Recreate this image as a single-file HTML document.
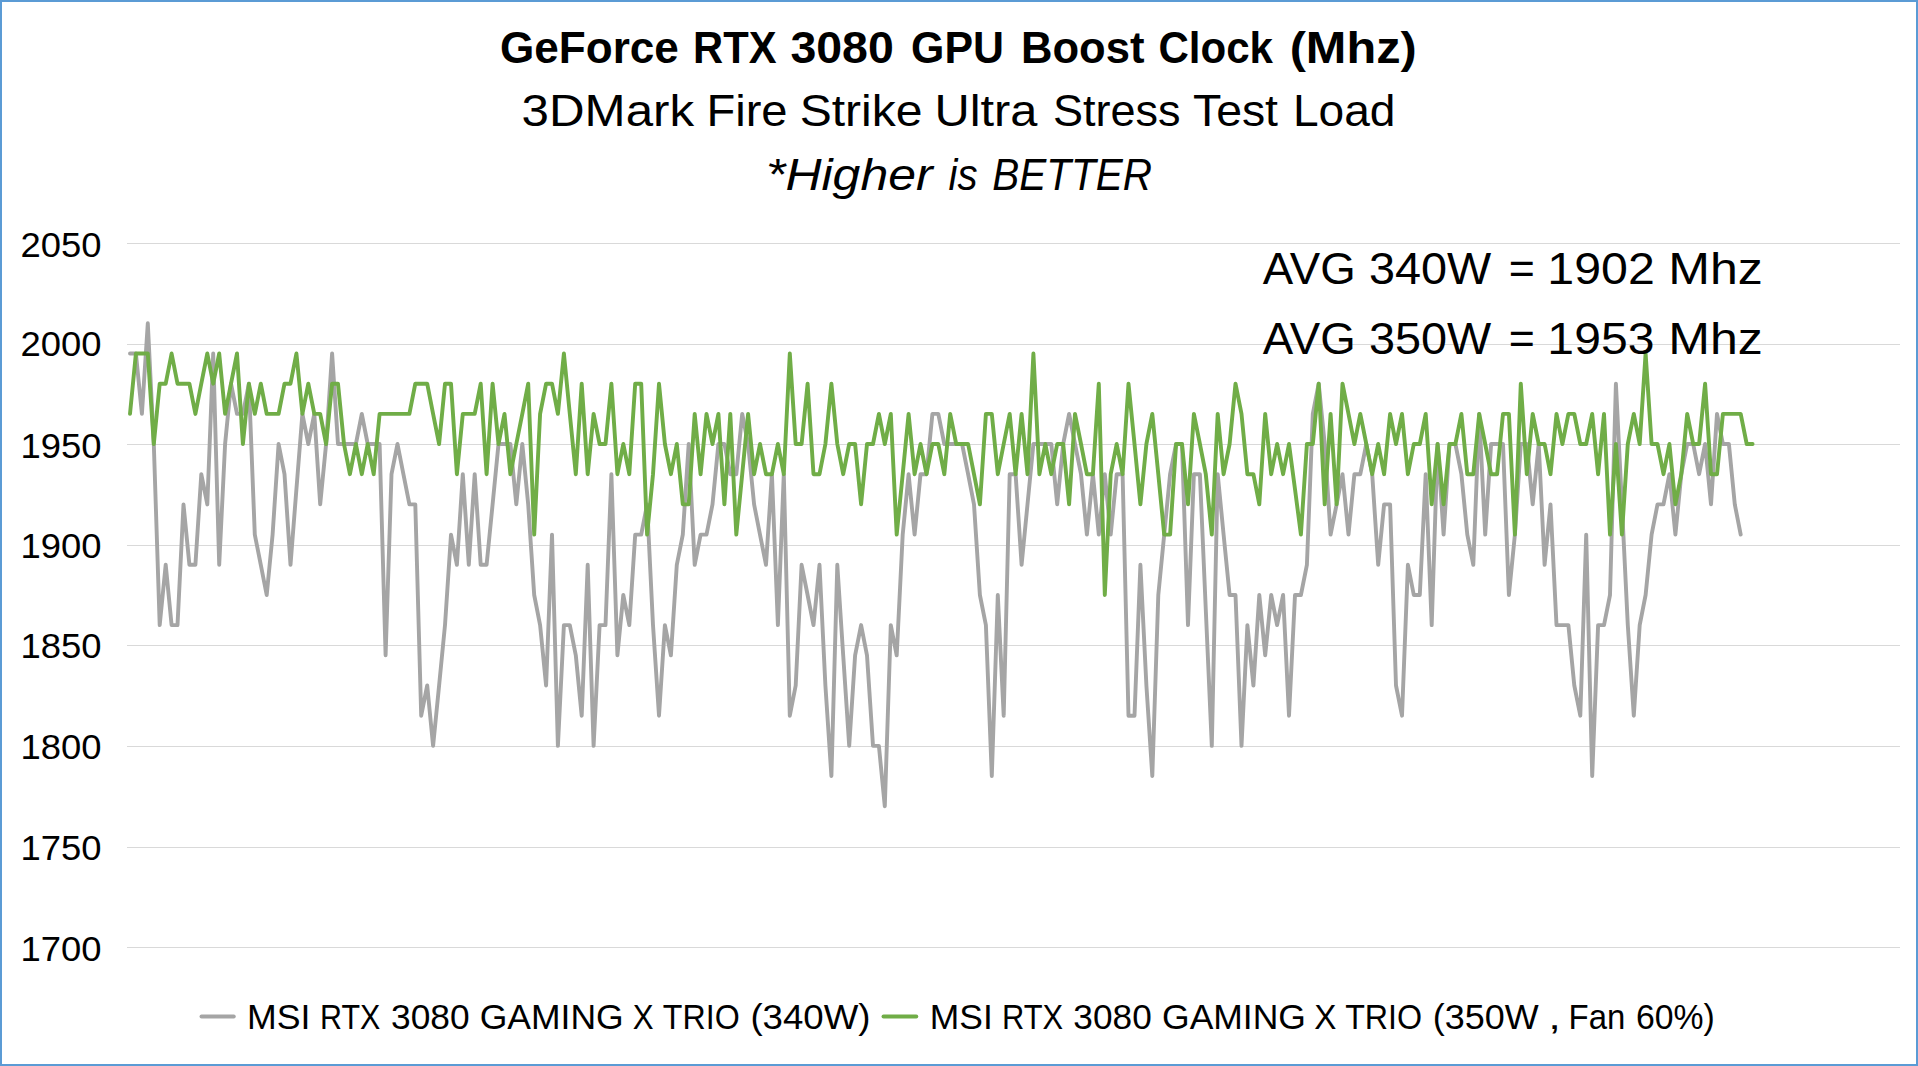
<!DOCTYPE html>
<html lang="en"><head><meta charset="utf-8"><title>GeForce RTX 3080 GPU Boost Clock (Mhz)</title>
<style>
html,body{margin:0;padding:0;background:#fff;}
body{width:1918px;height:1066px;overflow:hidden;position:relative;}
svg{position:absolute;left:0;top:0;display:block;}
text{font-family:"Liberation Sans", "DejaVu Sans", sans-serif;fill:#000;}
</style></head><body>
<svg width="1918" height="1066" viewBox="0 0 1918 1066">
<rect x="0" y="0" width="1918" height="1066" fill="#fff"/>
<g stroke="#d9d9d9" stroke-width="1" fill="none" shape-rendering="crispEdges"><line x1="127" x2="1899.5" y1="243.5" y2="243.5"/><line x1="127" x2="1899.5" y1="344.5" y2="344.5"/><line x1="127" x2="1899.5" y1="444.5" y2="444.5"/><line x1="127" x2="1899.5" y1="545.5" y2="545.5"/><line x1="127" x2="1899.5" y1="645.5" y2="645.5"/><line x1="127" x2="1899.5" y1="746.5" y2="746.5"/><line x1="127" x2="1899.5" y1="847.5" y2="847.5"/><line x1="127" x2="1899.5" y1="947.5" y2="947.5"/></g>
<polyline fill="none" stroke="#a5a5a5" stroke-width="3.9" stroke-linejoin="round" stroke-linecap="round" points="130.0,353.5 135.9,353.5 141.9,413.9 147.8,323.3 153.8,444.0 159.7,625.1 165.7,564.8 171.6,625.1 177.5,625.1 183.5,504.4 189.4,564.8 195.4,564.8 201.3,474.2 207.3,504.4 213.2,353.5 219.2,564.8 225.1,444.0 231.0,383.7 237.0,413.9 242.9,413.9 248.9,383.7 254.8,534.6 260.8,564.8 266.7,595.0 272.6,534.6 278.6,444.0 284.5,474.2 290.5,564.8 296.4,489.3 302.4,413.9 308.3,444.0 314.3,413.9 320.2,504.4 326.1,444.0 332.1,353.5 338.0,444.0 344.0,444.0 349.9,444.0 355.9,444.0 361.8,413.9 367.7,444.0 373.7,444.0 379.6,444.0 385.6,655.3 391.5,474.2 397.5,444.0 403.4,474.2 409.4,504.4 415.3,504.4 421.2,715.7 427.2,685.5 433.1,745.9 439.1,685.5 445.0,625.1 451.0,534.6 456.9,564.8 462.8,474.2 468.8,564.8 474.7,474.2 480.7,564.8 486.6,564.8 492.6,504.4 498.5,444.0 504.5,444.0 510.4,444.0 516.3,504.4 522.3,444.0 528.2,504.4 534.2,595.0 540.1,625.1 546.1,685.5 552.0,534.6 557.9,745.9 563.9,625.1 569.8,625.1 575.8,655.3 581.7,715.7 587.7,564.8 593.6,745.9 599.6,625.1 605.5,625.1 611.4,474.2 617.4,655.3 623.3,595.0 629.3,625.1 635.2,534.6 641.2,534.6 647.1,504.4 653.0,625.1 659.0,715.7 664.9,625.1 670.9,655.3 676.8,564.8 682.8,534.6 688.7,444.0 694.7,564.8 700.6,534.6 706.5,534.6 712.5,504.4 718.4,444.0 724.4,444.0 730.3,474.2 736.3,474.2 742.2,413.9 748.1,444.0 754.1,504.4 760.0,534.6 766.0,564.8 771.9,474.2 777.9,625.1 783.8,474.2 789.8,715.7 795.7,685.5 801.6,564.8 807.6,595.0 813.5,625.1 819.5,564.8 825.4,685.5 831.4,776.0 837.3,564.8 843.2,655.3 849.2,745.9 855.1,655.3 861.1,625.1 867.0,655.3 873.0,745.9 878.9,745.9 884.8,806.2 890.8,625.1 896.7,655.3 902.7,534.6 908.6,474.2 914.6,534.6 920.5,474.2 926.5,474.2 932.4,413.9 938.3,413.9 944.3,444.0 950.2,444.0 956.2,444.0 962.1,444.0 968.1,474.2 974.0,504.4 979.9,595.0 985.9,625.1 991.8,776.0 997.8,595.0 1003.7,715.7 1009.7,474.2 1015.6,474.2 1021.6,564.8 1027.5,504.4 1033.4,444.0 1039.4,444.0 1045.3,444.0 1051.3,444.0 1057.2,504.4 1063.2,444.0 1069.1,413.9 1075.0,444.0 1081.0,474.2 1086.9,534.6 1092.9,474.2 1098.8,534.6 1104.8,474.2 1110.7,534.6 1116.7,474.2 1122.6,474.2 1128.5,715.7 1134.5,715.7 1140.4,564.8 1146.4,685.5 1152.3,776.0 1158.3,595.0 1164.2,534.6 1170.1,474.2 1176.1,444.0 1182.0,444.0 1188.0,625.1 1193.9,474.2 1199.9,474.2 1205.8,610.0 1211.8,745.9 1217.7,474.2 1223.6,534.6 1229.6,595.0 1235.5,595.0 1241.5,745.9 1247.4,625.1 1253.4,685.5 1259.3,595.0 1265.2,655.3 1271.2,595.0 1277.1,625.1 1283.1,595.0 1289.0,715.7 1295.0,595.0 1300.9,595.0 1306.9,564.8 1312.8,413.9 1318.7,383.7 1324.7,444.0 1330.6,534.6 1336.6,504.4 1342.5,474.2 1348.5,534.6 1354.4,474.2 1360.3,474.2 1366.3,444.0 1372.2,474.2 1378.2,564.8 1384.1,504.4 1390.1,504.4 1396.0,685.5 1402.0,715.7 1407.9,564.8 1413.8,595.0 1419.8,595.0 1425.7,474.2 1431.7,625.1 1437.6,444.0 1443.6,534.6 1449.5,444.0 1455.4,444.0 1461.4,474.2 1467.3,534.6 1473.3,564.8 1479.2,413.9 1485.2,534.6 1491.1,444.0 1497.1,444.0 1503.0,444.0 1508.9,595.0 1514.9,534.6 1520.8,444.0 1526.8,444.0 1532.7,504.4 1538.7,444.0 1544.6,564.8 1550.5,504.4 1556.5,625.1 1562.4,625.1 1568.4,625.1 1574.3,685.5 1580.3,715.7 1586.2,534.6 1592.2,776.0 1598.1,625.1 1604.0,625.1 1610.0,595.0 1615.9,383.7 1621.9,504.4 1627.8,625.1 1633.8,715.7 1639.7,625.1 1645.6,595.0 1651.6,534.6 1657.5,504.4 1663.5,504.4 1669.4,474.2 1675.4,534.6 1681.3,474.2 1687.2,444.0 1693.2,444.0 1699.1,474.2 1705.1,444.0 1711.0,504.4 1717.0,413.9 1722.9,444.0 1728.9,444.0 1734.8,504.4 1740.7,534.6"/>
<polyline fill="none" stroke="#70ad47" stroke-width="3.9" stroke-linejoin="round" stroke-linecap="round" points="130.0,413.9 135.9,353.5 141.9,353.5 147.8,353.5 153.8,444.0 159.7,383.7 165.7,383.7 171.6,353.5 177.5,383.7 183.5,383.7 189.4,383.7 195.4,413.9 201.3,383.7 207.3,353.5 213.2,383.7 219.2,353.5 225.1,413.9 231.0,383.7 237.0,353.5 242.9,444.0 248.9,383.7 254.8,413.9 260.8,383.7 266.7,413.9 272.6,413.9 278.6,413.9 284.5,383.7 290.5,383.7 296.4,353.5 302.4,413.9 308.3,383.7 314.3,413.9 320.2,413.9 326.1,444.0 332.1,383.7 338.0,383.7 344.0,444.0 349.9,474.2 355.9,444.0 361.8,474.2 367.7,444.0 373.7,474.2 379.6,413.9 385.6,413.9 391.5,413.9 397.5,413.9 403.4,413.9 409.4,413.9 415.3,383.7 421.2,383.7 427.2,383.7 433.1,413.9 439.1,444.0 445.0,383.7 451.0,383.7 456.9,474.2 462.8,413.9 468.8,413.9 474.7,413.9 480.7,383.7 486.6,474.2 492.6,383.7 498.5,444.0 504.5,413.9 510.4,474.2 516.3,444.0 522.3,413.9 528.2,383.7 534.2,534.6 540.1,413.9 546.1,383.7 552.0,383.7 557.9,413.9 563.9,353.5 569.8,413.9 575.8,474.2 581.7,383.7 587.7,474.2 593.6,413.9 599.6,444.0 605.5,444.0 611.4,383.7 617.4,474.2 623.3,444.0 629.3,474.2 635.2,383.7 641.2,383.7 647.1,534.6 653.0,474.2 659.0,383.7 664.9,444.0 670.9,474.2 676.8,444.0 682.8,504.4 688.7,504.4 694.7,413.9 700.6,474.2 706.5,413.9 712.5,444.0 718.4,413.9 724.4,504.4 730.3,413.9 736.3,534.6 742.2,474.2 748.1,413.9 754.1,474.2 760.0,444.0 766.0,474.2 771.9,474.2 777.9,444.0 783.8,474.2 789.8,353.5 795.7,444.0 801.6,444.0 807.6,383.7 813.5,474.2 819.5,474.2 825.4,444.0 831.4,383.7 837.3,444.0 843.2,474.2 849.2,444.0 855.1,444.0 861.1,504.4 867.0,444.0 873.0,444.0 878.9,413.9 884.8,444.0 890.8,413.9 896.7,534.6 902.7,474.2 908.6,413.9 914.6,474.2 920.5,444.0 926.5,474.2 932.4,444.0 938.3,444.0 944.3,474.2 950.2,413.9 956.2,444.0 962.1,444.0 968.1,444.0 974.0,474.2 979.9,504.4 985.9,413.9 991.8,413.9 997.8,474.2 1003.7,444.0 1009.7,413.9 1015.6,474.2 1021.6,413.9 1027.5,474.2 1033.4,353.5 1039.4,474.2 1045.3,444.0 1051.3,474.2 1057.2,444.0 1063.2,444.0 1069.1,504.4 1075.0,413.9 1081.0,444.0 1086.9,474.2 1092.9,474.2 1098.8,383.7 1104.8,595.0 1110.7,474.2 1116.7,444.0 1122.6,474.2 1128.5,383.7 1134.5,444.0 1140.4,504.4 1146.4,444.0 1152.3,413.9 1158.3,474.2 1164.2,534.6 1170.1,534.6 1176.1,444.0 1182.0,444.0 1188.0,504.4 1193.9,413.9 1199.9,444.0 1205.8,474.2 1211.8,534.6 1217.7,413.9 1223.6,474.2 1229.6,444.0 1235.5,383.7 1241.5,413.9 1247.4,474.2 1253.4,474.2 1259.3,504.4 1265.2,413.9 1271.2,474.2 1277.1,444.0 1283.1,474.2 1289.0,444.0 1295.0,489.3 1300.9,534.6 1306.9,444.0 1312.8,444.0 1318.7,383.7 1324.7,504.4 1330.6,413.9 1336.6,504.4 1342.5,383.7 1348.5,413.9 1354.4,444.0 1360.3,413.9 1366.3,444.0 1372.2,474.2 1378.2,444.0 1384.1,474.2 1390.1,413.9 1396.0,444.0 1402.0,413.9 1407.9,474.2 1413.8,444.0 1419.8,444.0 1425.7,413.9 1431.7,504.4 1437.6,444.0 1443.6,504.4 1449.5,444.0 1455.4,444.0 1461.4,413.9 1467.3,474.2 1473.3,474.2 1479.2,413.9 1485.2,444.0 1491.1,474.2 1497.1,474.2 1503.0,413.9 1508.9,413.9 1514.9,534.6 1520.8,383.7 1526.8,474.2 1532.7,413.9 1538.7,444.0 1544.6,444.0 1550.5,474.2 1556.5,413.9 1562.4,444.0 1568.4,413.9 1574.3,413.9 1580.3,444.0 1586.2,444.0 1592.2,413.9 1598.1,474.2 1604.0,413.9 1610.0,534.6 1615.9,444.0 1621.9,534.6 1627.8,444.0 1633.8,413.9 1639.7,444.0 1645.6,353.5 1651.6,444.0 1657.5,444.0 1663.5,474.2 1669.4,444.0 1675.4,504.4 1681.3,474.2 1687.2,413.9 1693.2,444.0 1699.1,444.0 1705.1,383.7 1711.0,474.2 1717.0,474.2 1722.9,413.9 1728.9,413.9 1734.8,413.9 1740.7,413.9 1746.7,444.0 1752.6,444.0"/>
<text id="title" y="62.5" font-size="43.5" font-weight="bold"><tspan x="500.02" textLength="178.86" lengthAdjust="spacingAndGlyphs">GeForce</tspan> <tspan x="693.02" textLength="83.47" lengthAdjust="spacingAndGlyphs">RTX</tspan> <tspan x="790.44" textLength="103.35" lengthAdjust="spacingAndGlyphs">3080</tspan> <tspan x="911.10" textLength="92.85" lengthAdjust="spacingAndGlyphs">GPU</tspan> <tspan x="1020.90" textLength="123.55" lengthAdjust="spacingAndGlyphs">Boost</tspan> <tspan x="1158.47" textLength="114.52" lengthAdjust="spacingAndGlyphs">Clock</tspan> <tspan x="1289.66" textLength="127.08" lengthAdjust="spacingAndGlyphs">(Mhz)</tspan></text>
<text id="sub" y="126.3" font-size="43.5" ><tspan x="521.64" textLength="172.53" lengthAdjust="spacingAndGlyphs">3DMark</tspan> <tspan x="706.41" textLength="81.14" lengthAdjust="spacingAndGlyphs">Fire</tspan> <tspan x="799.70" textLength="122.85" lengthAdjust="spacingAndGlyphs">Strike</tspan> <tspan x="934.49" textLength="103.01" lengthAdjust="spacingAndGlyphs">Ultra</tspan> <tspan x="1052.91" textLength="127.60" lengthAdjust="spacingAndGlyphs">Stress</tspan> <tspan x="1192.95" textLength="85.07" lengthAdjust="spacingAndGlyphs">Test</tspan> <tspan x="1292.97" textLength="102.52" lengthAdjust="spacingAndGlyphs">Load</tspan></text>
<text id="ital" y="190" font-size="43.5" font-style="italic"><tspan x="766.02" textLength="166.56" lengthAdjust="spacingAndGlyphs">*Higher</tspan> <tspan x="948.49" textLength="29.00" lengthAdjust="spacingAndGlyphs">is</tspan> <tspan x="992.36" textLength="159.67" lengthAdjust="spacingAndGlyphs">BETTER</tspan></text>
<text id="a1" y="284.3" font-size="44.3" ><tspan x="1262.76" textLength="92.91" lengthAdjust="spacingAndGlyphs">AVG</tspan> <tspan x="1368.95" textLength="122.31" lengthAdjust="spacingAndGlyphs">340W</tspan> <tspan x="1508.69" textLength="26.08" lengthAdjust="spacingAndGlyphs">=</tspan> <tspan x="1547.35" textLength="107.40" lengthAdjust="spacingAndGlyphs">1902</tspan> <tspan x="1668.22" textLength="94.59" lengthAdjust="spacingAndGlyphs">Mhz</tspan></text>
<text id="a2" y="354.4" font-size="44.3" ><tspan x="1262.76" textLength="92.91" lengthAdjust="spacingAndGlyphs">AVG</tspan> <tspan x="1368.95" textLength="122.31" lengthAdjust="spacingAndGlyphs">350W</tspan> <tspan x="1508.69" textLength="26.08" lengthAdjust="spacingAndGlyphs">=</tspan> <tspan x="1547.38" textLength="107.04" lengthAdjust="spacingAndGlyphs">1953</tspan> <tspan x="1668.22" textLength="94.59" lengthAdjust="spacingAndGlyphs">Mhz</tspan></text>
<text class="yl" x="20.5" y="256.5" font-size="34.3" textLength="81" lengthAdjust="spacingAndGlyphs">2050</text><text class="yl" x="20.5" y="356.3" font-size="34.3" textLength="81" lengthAdjust="spacingAndGlyphs">2000</text><text class="yl" x="20.5" y="457.6" font-size="34.3" textLength="81" lengthAdjust="spacingAndGlyphs">1950</text><text class="yl" x="20.5" y="557.5" font-size="34.3" textLength="81" lengthAdjust="spacingAndGlyphs">1900</text><text class="yl" x="20.5" y="658.3" font-size="34.3" textLength="81" lengthAdjust="spacingAndGlyphs">1850</text><text class="yl" x="20.5" y="758.5" font-size="34.3" textLength="81" lengthAdjust="spacingAndGlyphs">1800</text><text class="yl" x="20.5" y="860.0" font-size="34.3" textLength="81" lengthAdjust="spacingAndGlyphs">1750</text><text class="yl" x="20.5" y="960.5" font-size="34.3" textLength="81" lengthAdjust="spacingAndGlyphs">1700</text>
<line x1="201.5" x2="233.8" y1="1016.5" y2="1016.5" stroke="#a5a5a5" stroke-width="3.9" stroke-linecap="round"/>
<text id="l1" y="1029.3" font-size="34.2" ><tspan x="246.94" textLength="63.46" lengthAdjust="spacingAndGlyphs">MSI</tspan> <tspan x="320.11" textLength="60.30" lengthAdjust="spacingAndGlyphs">RTX</tspan> <tspan x="391.08" textLength="78.59" lengthAdjust="spacingAndGlyphs">3080</tspan> <tspan x="479.72" textLength="143.88" lengthAdjust="spacingAndGlyphs">GAMING</tspan> <tspan x="632.69" textLength="20.84" lengthAdjust="spacingAndGlyphs">X</tspan> <tspan x="662.84" textLength="76.84" lengthAdjust="spacingAndGlyphs">TRIO</tspan> <tspan x="750.43" textLength="120.02" lengthAdjust="spacingAndGlyphs">(340W)</tspan></text>
<line x1="883.5" x2="916.3" y1="1016.5" y2="1016.5" stroke="#70ad47" stroke-width="3.9" stroke-linecap="round"/>
<text id="l2" y="1029.3" font-size="34.2" ><tspan x="929.82" textLength="62.96" lengthAdjust="spacingAndGlyphs">MSI</tspan> <tspan x="1002.00" textLength="61.12" lengthAdjust="spacingAndGlyphs">RTX</tspan> <tspan x="1073.37" textLength="78.38" lengthAdjust="spacingAndGlyphs">3080</tspan> <tspan x="1162.07" textLength="143.88" lengthAdjust="spacingAndGlyphs">GAMING</tspan> <tspan x="1314.33" textLength="22.16" lengthAdjust="spacingAndGlyphs">X</tspan> <tspan x="1345.20" textLength="76.94" lengthAdjust="spacingAndGlyphs">TRIO</tspan> <tspan x="1432.76" textLength="105.88" lengthAdjust="spacingAndGlyphs">(350W</tspan> <tspan x="1548.37" textLength="12.62" lengthAdjust="spacingAndGlyphs">,</tspan> <tspan x="1568.62" textLength="56.72" lengthAdjust="spacingAndGlyphs">Fan</tspan> <tspan x="1635.96" textLength="78.86" lengthAdjust="spacingAndGlyphs">60%)</tspan></text>
<rect x="1" y="1" width="1916" height="1064" fill="none" stroke="#5b9bd5" stroke-width="2"/>
</svg>
</body></html>
